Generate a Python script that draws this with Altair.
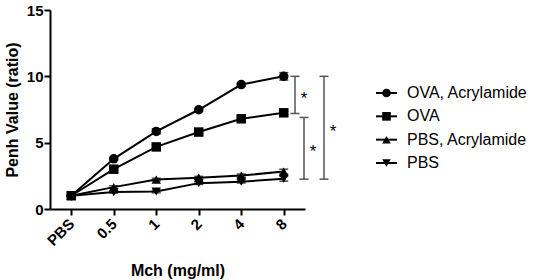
import altair as alt
import pandas as pd

# ---------------- data ----------------
doses = ["PBS", "0.5", "1", "2", "4", "8"]
series = ["OVA, Acrylamide", "OVA", "PBS, Acrylamide", "PBS"]
ova_acr = [1.0, 3.78, 5.85, 7.48, 9.38, 10.0]
ova = [1.0, 3.0, 4.68, 5.8, 6.8, 7.25]
pbs_acr = [1.0, 1.65, 2.22, 2.36, 2.52, 2.82]
pbs = [1.0, 1.28, 1.32, 1.95, 2.06, 2.28]
ova_acr_err = [0.05, 0.1, 0.2, 0.1, 0.1, 0.28]
ova_err = [0.05, 0.1, 0.12, 0.1, 0.1, 0.12]
pbs_acr_err = [0.05, 0.1, 0.1, 0.1, 0.12, 0.18]
pbs_err = [0.05, 0.08, 0.1, 0.1, 0.1, 0.18]

# significance brackets (low, high, label)
sig_low = [7.2, 2.25, 2.25]
sig_high = [10.0, 6.9, 10.0]
sig_label = ["*", "*", "*"]

shapes = ["circle", "square", "triangle-up", "triangle-down"]

rows = []
for s, vals, errs in zip(series, [ova_acr, ova, pbs_acr, pbs],
                         [ova_acr_err, ova_err, pbs_acr_err, pbs_err]):
    for d, v, e in zip(doses, vals, errs):
        rows.append({"series": s, "dose": d, "value": v,
                     "lo": v - e, "hi": v + e})
df = pd.DataFrame(rows)

FONT = "Liberation Sans"

x_enc = alt.X("dose:N", sort=doses,
              scale=alt.Scale(type="point", domain=doses, padding=0.5),
              axis=alt.Axis(title="Mch (mg/ml)", labelAngle=-45,
                            labelAlign="right", labelBaseline="middle",
                            labelPadding=6, titlePadding=14))
y_enc = alt.Y("value:Q", scale=alt.Scale(domain=[0, 15], nice=False),
              axis=alt.Axis(title="Penh Value (ratio)", values=[0, 5, 10, 15],
                            labelPadding=1, titlePadding=6))
shape_scale = alt.Scale(domain=series, range=shapes)

base = alt.Chart(df)
lines = base.mark_line(color="black", strokeWidth=2).encode(
    x=x_enc, y=y_enc, detail="series:N")
err_rule = base.mark_rule(color="black", strokeWidth=1.5).encode(
    x=alt.X("dose:N", sort=doses), y="lo:Q", y2="hi:Q")
err_cap_lo = base.mark_tick(color="black", thickness=1.5, size=9,
                            orient="horizontal").encode(
    x=alt.X("dose:N", sort=doses), y="lo:Q")
err_cap_hi = base.mark_tick(color="black", thickness=1.5, size=9,
                            orient="horizontal").encode(
    x=alt.X("dose:N", sort=doses), y="hi:Q")
points = base.mark_point(filled=True, color="black", opacity=1, size=90).encode(
    x=alt.X("dose:N", sort=doses), y="value:Q",
    shape=alt.Shape("series:N", scale=shape_scale, legend=None))

layers = [lines, err_rule, err_cap_lo, err_cap_hi, points]

sig_df = pd.DataFrame({"lo": sig_low, "hi": sig_high, "label": sig_label})
bracket_x = [245, 254, 274]
for i, bx in enumerate(bracket_x):
    d = alt.Chart(sig_df.iloc[[i]])
    layers.append(d.mark_rule(color="#555555", strokeWidth=1.5).encode(
        x=alt.value(bx), y="lo:Q", y2="hi:Q"))
    layers.append(d.mark_rule(color="#555555", strokeWidth=1.5).encode(
        x=alt.value(bx - 4.5), x2=alt.value(bx + 4.5), y="lo:Q"))
    layers.append(d.mark_rule(color="#555555", strokeWidth=1.5).encode(
        x=alt.value(bx - 4.5), x2=alt.value(bx + 4.5), y="hi:Q"))
    layers.append(d.transform_calculate(mid="(datum.lo + datum.hi) / 2")
                  .mark_text(font=FONT, fontSize=17, align="center",
                             baseline="middle", dy=4, color="black")
                  .encode(x=alt.value(bx + 9), y="mid:Q", text="label:N"))

main = alt.layer(*layers).properties(width=255, height=199)

# ---------------- legend ----------------
leg_df = pd.DataFrame({"series": series})
leg_y = alt.Y("series:N", sort=series,
              scale=alt.Scale(type="point", domain=series, range=[83, 153],
                              padding=0), axis=None)
leg_base = alt.Chart(leg_df)
leg_line = leg_base.mark_rule(color="black", strokeWidth=2).encode(
    x=alt.value(1), x2=alt.value(22), y=leg_y)
leg_pt = leg_base.mark_point(filled=True, color="black", opacity=1, size=75).encode(
    x=alt.value(11.5), y=leg_y,
    shape=alt.Shape("series:N", scale=shape_scale, legend=None))
leg_txt = leg_base.mark_text(font=FONT, fontSize=16, align="left",
                             baseline="middle", color="black").encode(
    x=alt.value(32), y=leg_y, text="series:N")
legend = alt.layer(leg_line, leg_pt, leg_txt).properties(width=150, height=199)

chart = alt.hconcat(main, legend, spacing=70, bounds="flush").properties(
    padding={"left": 4, "top": 3, "right": 0, "bottom": 0}
).configure_view(stroke=None).configure_axis(
    domainColor="black", domainWidth=2, tickColor="black", tickWidth=2,
    tickSize=6, grid=False, labelFont=FONT, labelFontSize=15,
    labelFontWeight="bold", labelColor="black", titleFont=FONT,
    titleFontSize=16, titleFontWeight="bold", titleColor="black"
)

chart.save("out.html", embed_options={"renderer": "svg", "actions": False})
